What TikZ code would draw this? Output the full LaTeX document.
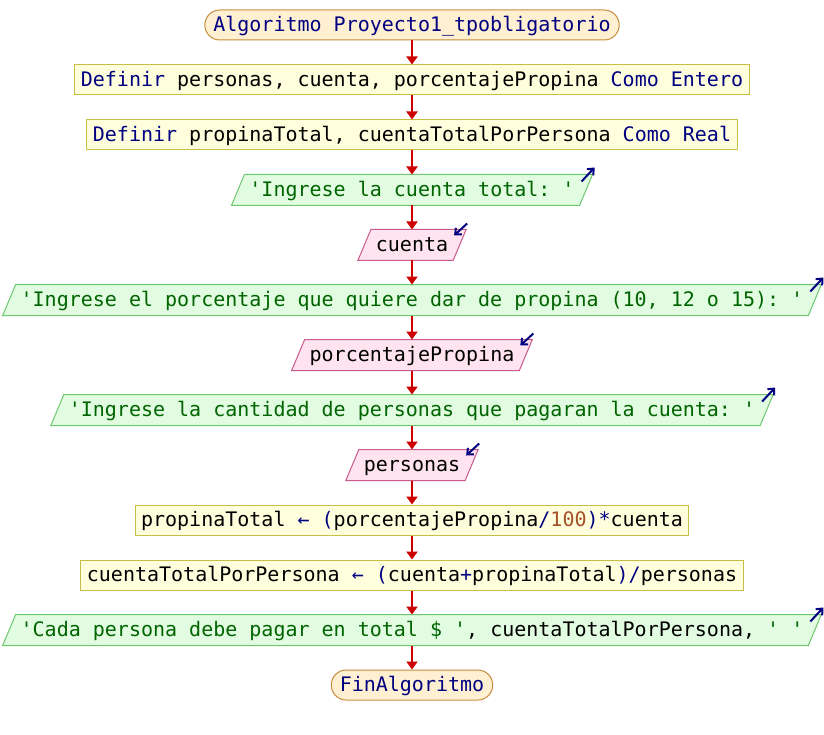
\documentclass[tikz,border=0pt]{standalone}
\usepackage{fontspec}
\setmonofont{DejaVu Sans Mono}
\usetikzlibrary{arrows.meta,calc,backgrounds}

\definecolor{navy}{RGB}{0,0,128}
\definecolor{flowred}{RGB}{204,0,0}
\definecolor{numbrown}{RGB}{165,80,40}
\definecolor{termfill}{RGB}{255,240,210}
\definecolor{termline}{RGB}{200,140,60}
\definecolor{procfill}{RGB}{255,255,222}
\definecolor{procline}{RGB}{200,190,70}
\definecolor{outfill}{RGB}{226,252,226}
\definecolor{outline}{RGB}{110,200,110}
\definecolor{outtext}{RGB}{0,100,0}
\definecolor{infill}{RGB}{255,228,240}
\definecolor{inline}{RGB}{200,90,140}

\tikzset{
  base/.style={minimum height=30pt, text height=17pt, text depth=4pt,
    inner ysep=0pt, line width=1pt},
  term/.style={base, rounded corners=15pt, draw=termline, fill=termfill,
    text=navy, inner xsep=8.5pt},
  proc/.style={base, draw=procline, fill=procfill, text=black, inner xsep=6pt},
  outbox/.style={base, text=outtext, inner xsep=11pt},
  inbox/.style={base, text=black, inner xsep=11pt},
  outshape/.style={draw=outline, fill=outfill, line width=1pt},
  inshape/.style={draw=inline, fill=infill, line width=1pt},
  flow/.style={draw=flowred, line width=2pt,
    -{Triangle[length=8pt,width=11pt]}},
  iomark/.style={draw=navy, line width=2pt,
    -{Straight Barb[length=5pt,width=9pt]}}
}

\begin{document}
\begin{tikzpicture}[x=1pt, y=-1pt, font=\ttfamily\fontsize{20}{24}\selectfont]
\useasboundingbox (0,0) rectangle (824,735);

\node[term]   (s)  at (412,25)  {Algoritmo Proyecto1\_tpobligatorio};
\node[proc]   (d1) at (412,80)  {{\color{navy}Definir} personas, cuenta, porcentajePropina {\color{navy}Como Entero}};
\node[proc]   (d2) at (412,135) {{\color{navy}Definir} propinaTotal, cuentaTotalPorPersona {\color{navy}Como Real}};
\node[outbox] (o1) at (412,190) {'Ingrese la cuenta total: '};
\node[inbox]  (i1) at (412,245) {cuenta};
\node[outbox] (o2) at (412,300) {'Ingrese el porcentaje que quiere dar de propina (10, 12 o 15): '};
\node[inbox]  (i2) at (412,355) {porcentajePropina};
\node[outbox] (o3) at (412,410) {'Ingrese la cantidad de personas que pagaran la cuenta: '};
\node[inbox]  (i3) at (412,465) {personas};
\node[proc]   (a1) at (412,520) {propinaTotal {\color{navy}← (}porcentajePropina{\color{navy}/}{\color{numbrown}100}{\color{navy})*}cuenta};
\node[proc]   (a2) at (412,575) {cuentaTotalPorPersona {\color{navy}← (}cuenta{\color{navy}+}propinaTotal{\color{navy})/}personas};
\node[outbox] (o4) at (412,630) {'Cada persona debe pagar en total \$ '{\color{black}, cuentaTotalPorPersona, }' '};
\node[term]   (e)  at (412,685) {FinAlgoritmo};

% slanted boxes behind the input/output texts
\begin{scope}[on background layer]
  \foreach \n/\sty in {o1/outshape,o2/outshape,o3/outshape,o4/outshape,
                       i1/inshape,i2/inshape,i3/inshape}
    \draw[\sty] ($(\n.south west)+(-6.5,0)$) -- ($(\n.south east)+(-6.5,0)$)
      -- ($(\n.north east)+(6.5,0)$) -- ($(\n.north west)+(6.5,0)$) -- cycle;
\end{scope}

% flow connectors
\draw[flow] (s)  -- (d1);
\draw[flow] (d1) -- (d2);
\draw[flow] (d2) -- (o1);
\draw[flow] (o1) -- (i1);
\draw[flow] (i1) -- (o2);
\draw[flow] (o2) -- (i2);
\draw[flow] (i2) -- (o3);
\draw[flow] (o3) -- (i3);
\draw[flow] (i3) -- (a1);
\draw[flow] (a1) -- (a2);
\draw[flow] (a2) -- (o4);
\draw[flow] (o4) -- (e);

% output marks
\foreach \n in {o1,o2,o3,o4}
  \draw[iomark] ($(\n.north east)+(-4.5,7)$) -- ++(13,-14);
% input marks
\foreach \n in {i1,i2,i3}
  \draw[iomark] ($(\n.north east)+(7.5,-6)$) -- ++(-13,12);
\end{tikzpicture}
\end{document}
